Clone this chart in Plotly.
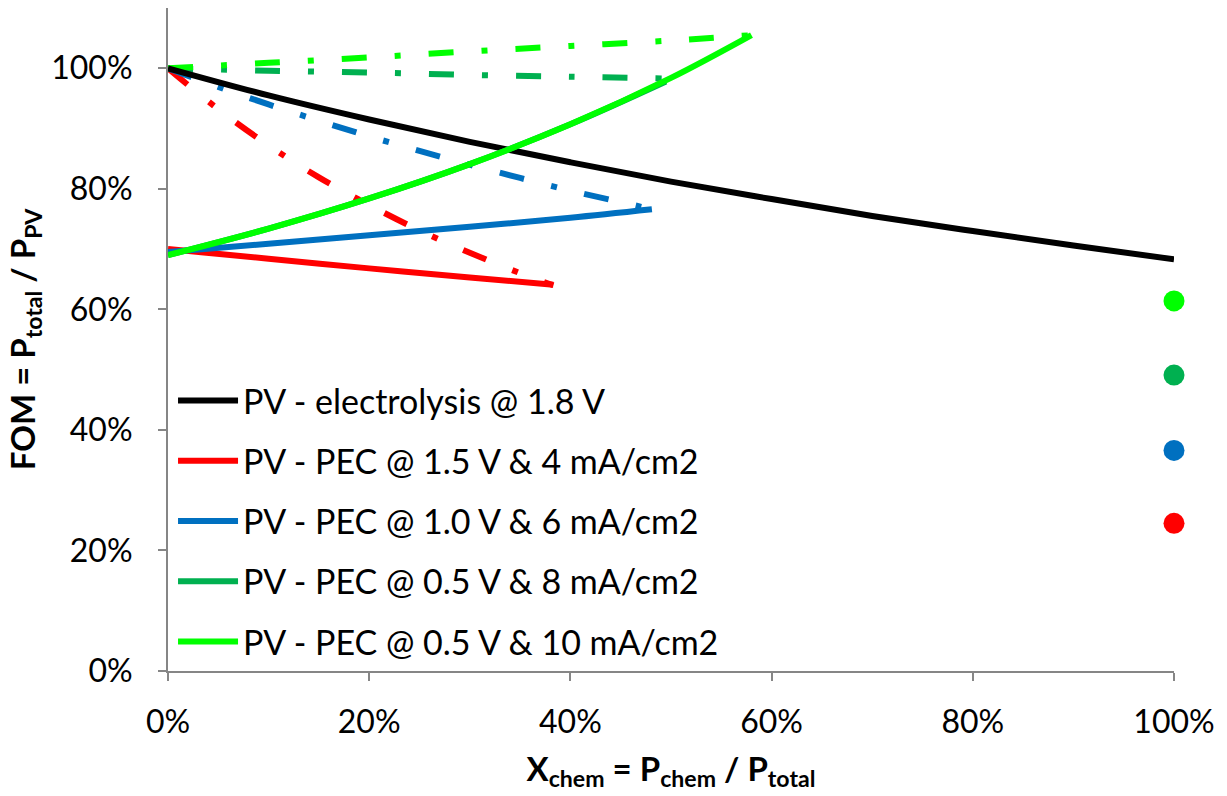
import plotly.graph_objects as go

# ---- data ----
x_elec = [0.0, 0.1, 0.2, 0.3, 0.4, 0.5, 0.6, 0.7, 0.8, 0.9, 1.0]
y_elec = [1.000, 0.955, 0.915, 0.878, 0.844, 0.812, 0.783, 0.755, 0.730, 0.706, 0.683]

x_red = [0.0, 0.1, 0.2, 0.3, 0.383]
y_red = [0.700, 0.684, 0.668, 0.653, 0.641]
x_red_dd = [0.0, 0.05, 0.1, 0.15, 0.2, 0.25, 0.3, 0.35, 0.383]
y_red_dd = [1.000, 0.932, 0.872, 0.819, 0.773, 0.731, 0.694, 0.660, 0.640]

x_blue = [0.0, 0.1, 0.2, 0.3, 0.4, 0.481]
y_blue = [0.695, 0.709, 0.723, 0.737, 0.752, 0.766]
x_blue_dd = [0.0, 0.05, 0.1, 0.15, 0.2, 0.25, 0.3, 0.35, 0.4, 0.45, 0.481]
y_blue_dd = [1.000, 0.969, 0.940, 0.913, 0.887, 0.863, 0.840, 0.818, 0.797, 0.778, 0.766]

x_dg = [0.0, 0.1, 0.2, 0.3, 0.4, 0.495]
y_dg = [0.690, 0.734, 0.784, 0.841, 0.907, 0.978]
x_dg_dd = [0.0, 0.1, 0.2, 0.3, 0.4, 0.495]
y_dg_dd = [1.000, 0.996, 0.993, 0.989, 0.986, 0.983]

x_lg = [0.0, 0.1, 0.2, 0.3, 0.4, 0.5, 0.58]
y_lg = [0.690, 0.734, 0.784, 0.841, 0.907, 0.984, 1.055]
x_lg_dd = [0.0, 0.1, 0.2, 0.3, 0.4, 0.5, 0.58]
y_lg_dd = [1.000, 1.009, 1.018, 1.028, 1.037, 1.046, 1.055]

x_pts = [1.0, 1.0, 1.0, 1.0]
y_pts = [0.614, 0.491, 0.366, 0.245]

names = ["PV - electrolysis @ 1.8 V",
         "PV - PEC @ 1.5 V & 4 mA/cm2",
         "PV - PEC @ 1.0 V & 6 mA/cm2",
         "PV - PEC @ 0.5 V & 8 mA/cm2",
         "PV - PEC @ 0.5 V & 10 mA/cm2"]

BLACK = "#000000"
RED = "#FF0000"
BLUE = "#0070C0"
DGREEN = "#00B050"
LGREEN = "#00FF00"
DASH = "25px,28px,6px,28px"
LW = 6

fig = go.Figure()

# dash-dot traces (not in legend)
for xs, ys, c in [(x_red_dd, y_red_dd, RED), (x_blue_dd, y_blue_dd, BLUE),
                  (x_dg_dd, y_dg_dd, DGREEN), (x_lg_dd, y_lg_dd, LGREEN)]:
    fig.add_trace(go.Scatter(x=xs, y=ys, mode="lines", showlegend=False,
                             line=dict(color=c, width=LW, dash=DASH, shape="spline"),
                             hoverinfo="skip"))

# solid traces (legend)
for i, (xs, ys, c) in enumerate([(x_elec, y_elec, BLACK), (x_red, y_red, RED),
                                 (x_blue, y_blue, BLUE), (x_dg, y_dg, DGREEN),
                                 (x_lg, y_lg, LGREEN)]):
    fig.add_trace(go.Scatter(x=xs, y=ys, mode="lines", name=names[i],
                             legendgroup=f"g{i}", legendrank=i + 1,
                             line=dict(color=c, width=LW, shape="spline")))

fig.add_trace(go.Scatter(x=x_pts, y=y_pts, mode="markers", showlegend=False,
                         cliponaxis=False,
                         marker=dict(size=21, color=[LGREEN, DGREEN, BLUE, RED])))

AX = "#868686"
TICKFONT = dict(family="Lato", size=32, color="#000000")

fig.update_layout(
    width=1227, height=796,
    margin=dict(l=168, r=53, t=8, b=125, autoexpand=False),
    paper_bgcolor="white", plot_bgcolor="white",
    font=dict(family="Lato", color="#000000"),
    showlegend=True,
    legend=dict(x=0.005, y=0.451, xanchor="left", yanchor="top",
                xref="paper", yref="paper",
                font=dict(family="Lato", size=34, color="#000000"),
                bgcolor="rgba(0,0,0,0)", traceorder="grouped",
                tracegroupgap=13, itemwidth=60),
    xaxis=dict(range=[0, 1], tickvals=[0, 0.2, 0.4, 0.6, 0.8, 1.0],
               tickformat=".0%", showgrid=False, zeroline=False,
               showline=True, linecolor=AX, linewidth=2,
               ticks="outside", ticklen=8, tickwidth=2, tickcolor=AX,
               tickfont=TICKFONT, ticklabelstandoff=14,
               title=dict(text="<b>X<sub>chem</sub> = P<sub>chem</sub> / P<sub>total</sub></b>",
                          font=dict(family="Lato", size=33), standoff=18)),
    yaxis=dict(range=[0, 1.1], tickvals=[0, 0.2, 0.4, 0.6, 0.8, 1.0],
               tickformat=".0%", showgrid=False, zeroline=False,
               showline=True, linecolor=AX, linewidth=2,
               ticks="outside", ticklen=8, tickwidth=2, tickcolor=AX,
               tickfont=TICKFONT, ticklabelstandoff=19,
               title=dict(text="<b>FOM = P<sub>total</sub> / P<sub>PV</sub></b>",
                          font=dict(family="Lato", size=33), standoff=6)),
)

fig.write_html("out.html", config={"displayModeBar": False},
               post_script="document.body.style.margin='0';document.body.style.overflow='hidden';")
